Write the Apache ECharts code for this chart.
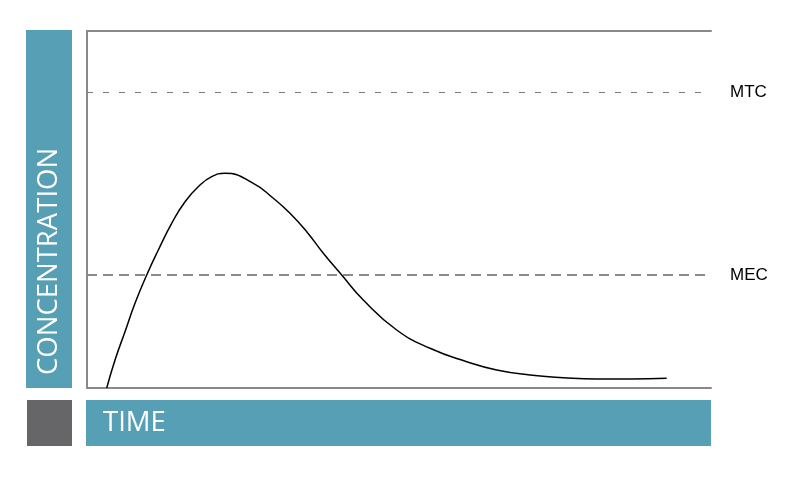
<!DOCTYPE html>
<html>
<head>
<meta charset="utf-8">
<script src="https://cdn.jsdelivr.net/npm/echarts@6/dist/echarts.min.js"></script>
<style>html,body{margin:0;padding:0;background:#fff}#c{width:795px;height:483px}</style>
</head>
<body>
<div id="c"></div>
<script>
// Data (time in arbitrary units 0..100, concentration 0..100)
var times = [3.16, 4.49, 6.09, 7.69, 9.57, 11.43, 13.57, 15.71, 17.84, 19.98, 22.12, 26.65, 29.86, 32.53, 35.21, 37.87, 40.82, 44.28, 49.63, 54.97, 60.85, 65.66, 70.99, 76.33, 81.68, 87.02, 92.9];
var conc  = [0.0, 7.84, 15.77, 23.73, 31.65, 38.66, 46.13, 52.18, 56.39, 59.19, 60.14, 57.34, 53.14, 48.94, 43.78, 37.73, 31.65, 24.65, 16.25, 11.12, 7.37, 5.04, 3.64, 2.89, 2.52, 2.52, 2.72];
var MTC = 82.9;
var MEC = 31.6;
var xLabel = 'TIME';
var yLabel = 'CONCENTRATION';

var chart = echarts.init(document.getElementById('c'), null, {renderer: 'canvas'});
var axisStyle = {show: true, onZero: false, lineStyle: {color: '#898989', width: 2}};
var pts = times.map(function (t, i) { return [t, conc[i]]; });

chart.setOption({
  animation: false,
  grid: {left: 87, right: 84, top: 31, bottom: 95},
  xAxis: [
    {type: 'value', min: 0, max: 100, position: 'bottom', axisLine: axisStyle, axisTick: {show: false}, axisLabel: {show: false}, splitLine: {show: false}},
    {type: 'value', min: 0, max: 100, position: 'top', axisLine: axisStyle, axisTick: {show: false}, axisLabel: {show: false}, splitLine: {show: false}}
  ],
  yAxis: {type: 'value', min: 0, max: 100, axisLine: axisStyle, axisTick: {show: false}, axisLabel: {show: false}, splitLine: {show: false}},
  series: [{
    type: 'line',
    data: pts,
    smooth: 0.5,
    showSymbol: false,
    silent: true,
    lineStyle: {color: '#000', width: 1.5},
    markLine: {
      silent: true,
      symbol: 'none',
      animation: false,
      data: [
        {yAxis: MTC, name: 'MTC', lineStyle: {color: '#7a7a7a', width: 1, type: [6, 10]},
         label: {formatter: 'MTC'}},
        {yAxis: MEC, name: 'MEC', lineStyle: {color: '#8a8a8a', width: 2, type: [10, 6]},
         label: {formatter: 'MEC'}}
      ],
      label: {show: true, position: 'end', distance: 19, color: '#000', fontSize: 17, fontFamily: 'Liberation Sans, Arial, sans-serif'}
    }
  }],
  graphic: [
    {type: 'rect', shape: {x: 26, y: 30, width: 46, height: 358}, style: {fill: '#569fb5'}},
    {type: 'rect', shape: {x: 27, y: 400, width: 45, height: 46}, style: {fill: '#666668'}},
    {type: 'rect', shape: {x: 86, y: 400, width: 625, height: 46}, style: {fill: '#569fb5'}},
    {type: 'text', x: 103, y: 423, style: {text: xLabel, fill: '#fff', font: '27.5px "Open Sans", sans-serif', textAlign: 'left', textVerticalAlign: 'middle'}},
    {type: 'text', x: 49, y: 375, rotation: Math.PI / 2, style: {text: yLabel, fill: '#fff', font: '27.5px "Open Sans", sans-serif', textAlign: 'left', textVerticalAlign: 'middle'}}
  ]
});
</script>
</body>
</html>
